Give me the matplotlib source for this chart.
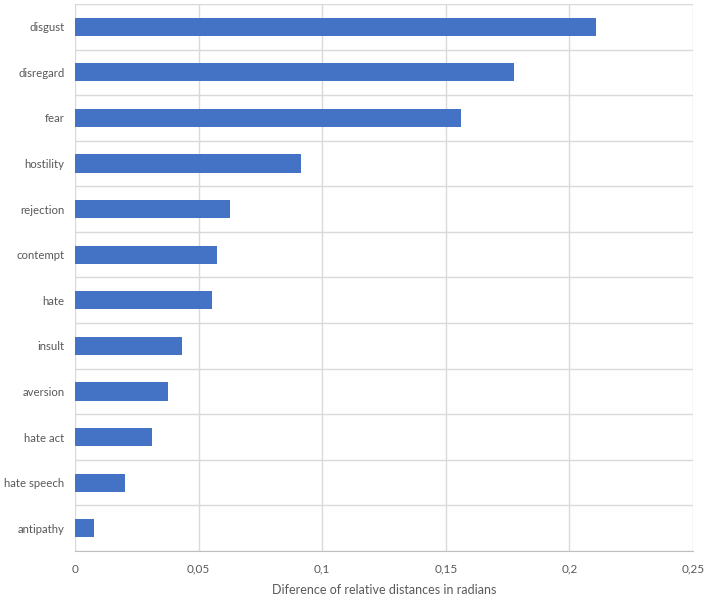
import matplotlib.pyplot as plt
import numpy as np
from matplotlib.ticker import FuncFormatter, MultipleLocator

plt.rcParams['font.family'] = ['Lato', 'DejaVu Sans']

# data (top to bottom as shown)
terms = ['disgust', 'disregard', 'fear', 'hostility', 'rejection', 'contempt',
         'hate', 'insult', 'aversion', 'hate act', 'hate speech', 'antipathy']
values = [0.2106, 0.1777, 0.1561, 0.0916, 0.0627, 0.0574,
          0.0556, 0.0433, 0.0376, 0.0313, 0.0202, 0.0077]

fig = plt.figure(figsize=(7.08, 5.96), dpi=100)
ax = fig.add_axes([0.1059, 0.0755, 0.8729, 0.9178])

y = np.arange(len(terms))[::-1]
ax.barh(y, values, height=0.4, color='#4472C4', zorder=3)

ax.set_xlim(0, 0.25)
ax.set_ylim(-0.5, len(terms) - 0.5)
ax.xaxis.set_major_locator(MultipleLocator(0.05))
ax.xaxis.set_major_formatter(FuncFormatter(lambda v, p: ('%g' % round(v, 2)).replace('.', ',')))
ax.set_yticks(y)
ax.set_yticklabels(terms)
ax.set_yticks(np.arange(-0.5, len(terms), 1), minor=True)

ax.grid(axis='x', which='major', color='#D9D9D9', linewidth=1, zorder=0)
ax.grid(axis='y', which='minor', color='#D9D9D9', linewidth=1, zorder=0)
ax.tick_params(axis='both', which='both', length=0, colors='#595959', labelsize=8.5)
ax.tick_params(axis='y', labelsize=8.2, pad=7.5)
ax.tick_params(axis='x', pad=9)

for s in ['top', 'right', 'left']:
    ax.spines[s].set_visible(False)
ax.spines['bottom'].set_color('#BFBFBF')

ax.set_xlabel('Diference of relative distances in radians', color='#595959', fontsize=9, labelpad=7)

fig.savefig('out.png', dpi=100)
